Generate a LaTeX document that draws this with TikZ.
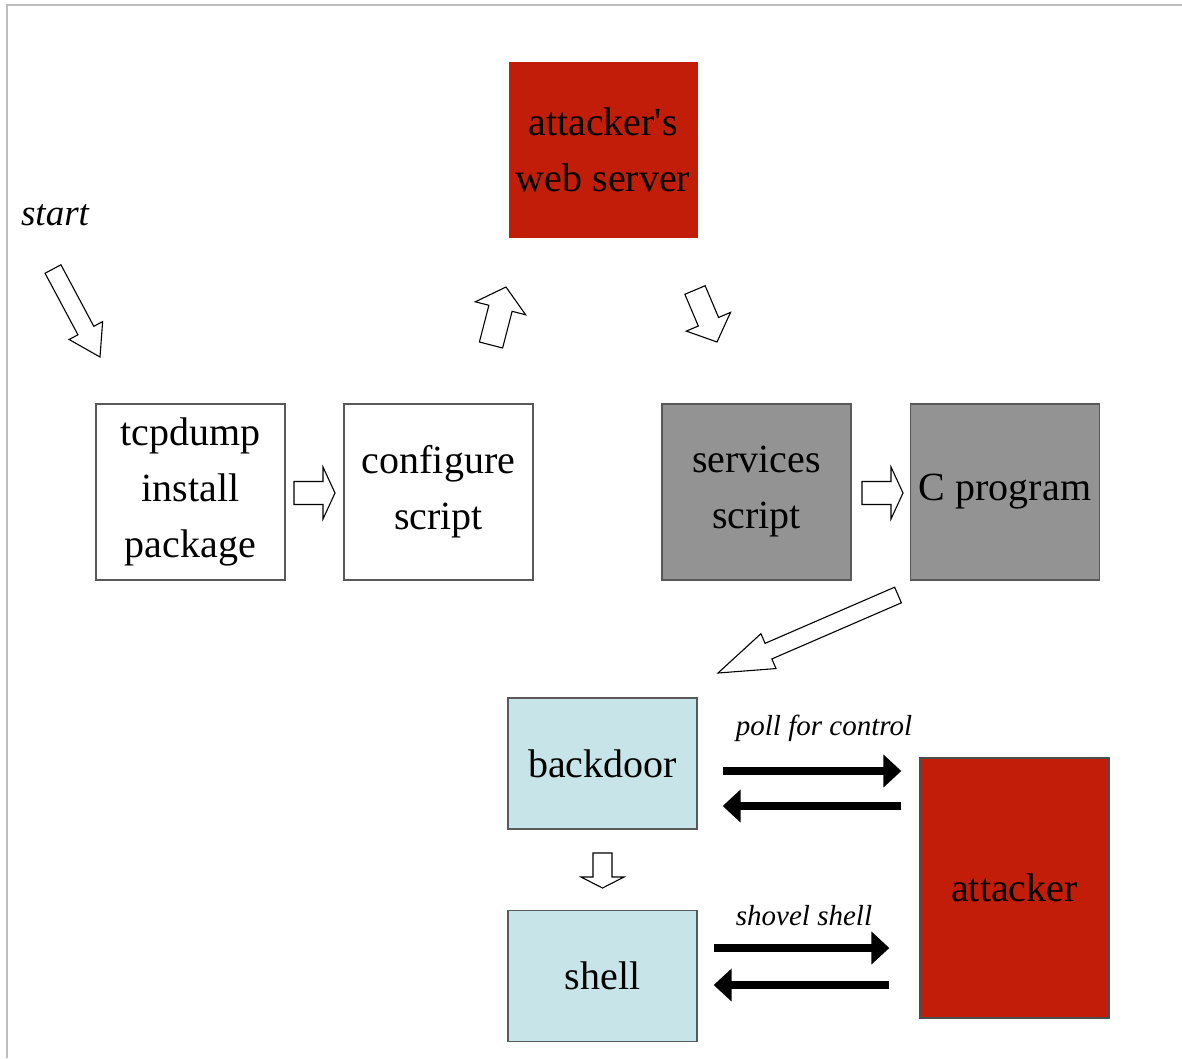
\documentclass[tikz,border=0pt]{standalone}
\usepackage{fontspec}
\setmainfont{Liberation Serif}[Ligatures=TeXOff]
\usetikzlibrary{calc,arrows.meta}

\definecolor{boxred}{RGB}{194,29,8}
\definecolor{boxgray}{RGB}{147,147,147}
\definecolor{boxblue}{RGB}{199,229,232}
\definecolor{framegray}{RGB}{190,190,190}

\tikzset{
  stage/.style={draw=black!65,line width=1.3pt,minimum width=189pt,minimum height=176pt,
    align=center,font=\fontsize{40}{56}\selectfont,inner sep=0pt},
  plain/.style={stage,fill=white},
  grey/.style={stage,fill=boxgray},
  hot/.style={stage,fill=boxred,draw=none},
  side/.style={stage,fill=boxblue,minimum height=131pt},
  tag/.style={font=\fontsize{29}{34}\selectfont\itshape,inner sep=0pt},
  hollow/.style={draw=black,fill=white,line width=1.1pt,line join=miter},
  fat/.style={line width=8pt,-{Triangle[length=18pt,width=32pt]}},
}

% hollow block arrow: tail, tip, half shaft, half head, head length
\newcommand{\hollowarrow}[5]{%
  \coordinate (ha) at (#1);
  \coordinate (hb) at (#2);
  \coordinate (hc) at ($(hb)!#5!(ha)$);
  \draw[hollow] ($(ha)!#3!90:(hb)$) -- ($(hc)!#3!-90:(ha)$) -- ($(hc)!#4!-90:(ha)$)
    -- (hb) -- ($(hc)!#4!90:(ha)$) -- ($(hc)!#3!90:(ha)$) -- ($(ha)!#3!-90:(hb)$) -- cycle;
}

\begin{document}
\begin{tikzpicture}[x=1pt,y=-1pt]
  \useasboundingbox (0,0) rectangle (1182,1058);
  \draw[framegray,line width=1.5pt] (7,1058) -- (7,5) -- (1182,5);

  % top row
  \node[plain] (tcpdump) at (190.5,492) {tcpdump\\install\\package};
  \node[plain] (configure) at (438.5,492) {configure\\script};
  \node[grey] (services) at (756.5,492) {services\\script};
  \node[grey] (cprog) at (1005,492) {C program};
  \node[hot] (webserver) at (603,150) {attacker's\\web server};

  % bottom part
  \node[side] (backdoor) at (602.5,763.5) {backdoor};
  \node[side] (shell) at (602.5,976) {shell};
  \node[hot,draw=black!70,minimum height=260pt] (attacker) at (1014.5,888) {attacker};

  \node[tag,font=\fontsize{37}{40}\selectfont\itshape] (start) at (55,215) {start};
  \node[tag] (poll) at (824,728) {poll for control};
  \node[tag] (shovel) at (804,916) {shovel shell};

  % hollow arrows
  \hollowarrow{53,269}{100,357}{9pt}{19pt}{30pt}
  \hollowarrow{294,493}{335,493}{11.5pt}{26pt}{12pt}
  \hollowarrow{862,493}{903,493}{11.5pt}{26pt}{12pt}
  \hollowarrow{491,345}{506,287}{12pt}{26pt}{22pt}
  \hollowarrow{695,290}{717,342}{11pt}{24pt}{22pt}
  \hollowarrow{898,595}{718,673}{8.5pt}{19pt}{55pt}
  \hollowarrow{602.5,853}{602.5,888}{9.5pt}{21.5pt}{11pt}

  % thick arrows
  \draw[fat] ([xshift=25pt,yshift=-7.5pt]backdoor.east) -- ([xshift=-18pt,yshift=-7.5pt]backdoor.east -| attacker.west);
  \draw[fat] ([xshift=-18pt,yshift=-42.5pt]backdoor.east -| attacker.west) -- ([xshift=25pt,yshift=-42.5pt]backdoor.east);
  \draw[fat] ([xshift=16pt,yshift=28pt]shell.east) -- ([xshift=-30pt,yshift=28pt]shell.east -| attacker.west);
  \draw[fat] ([xshift=-30pt,yshift=-9pt]shell.east -| attacker.west) -- ([xshift=16pt,yshift=-9pt]shell.east);
\end{tikzpicture}
\end{document}
